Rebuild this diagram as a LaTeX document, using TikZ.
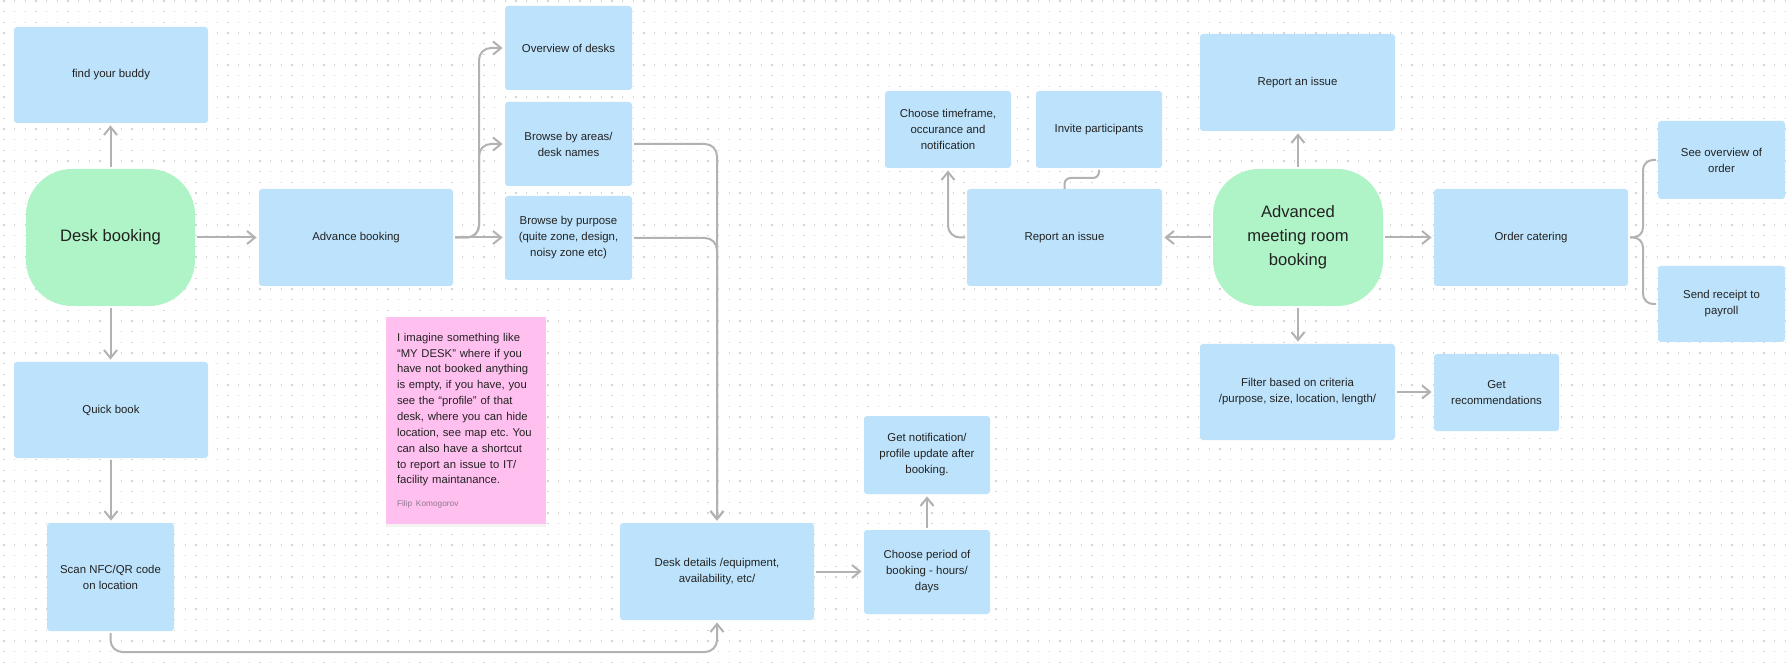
\documentclass[tikz,border=0pt]{standalone}
\usepackage{fontspec}
\setmainfont{Liberation Sans}
\usetikzlibrary{arrows.meta,shadows,calc}
\definecolor{boxblue}{HTML}{BDE3FC}
\definecolor{boxgreen}{HTML}{AFF4C6}
\definecolor{notepink}{HTML}{FFC0F0}
\definecolor{connc}{RGB}{178,178,178}
\definecolor{dotc}{RGB}{212,212,212}
\definecolor{txtc}{RGB}{34,34,34}
\definecolor{authc}{RGB}{140,120,140}
\frenchspacing
\tikzset{
  bluebox/.style={fill=boxblue, rounded corners=1.5pt, inner sep=0pt, outer sep=0pt, align=center, text=txtc, font=\fontsize{5.7}{8}\selectfont},
  greenbox/.style={fill=boxgreen, rounded corners=23pt, inner sep=0pt, outer sep=0pt, align=center, text=txtc, font=\fontsize{8.3}{12}\selectfont},
  conn/.style={draw=connc, line width=1pt, rounded corners=6pt, shorten <=1pt},
  arr/.style={conn, -{Straight Barb[length=4pt,width=6.5pt]}, shorten >=1.2pt},
  dotrow/.style={draw=dotc, line width=0.65pt, dash pattern=on 0.65pt off 4.6835pt}
}
\begin{document}
\begin{tikzpicture}[x=0.5pt,y=-0.5pt]
\fill[white] (0,0) rectangle (1789,663);
\useasboundingbox (0,0) rectangle (1789,663);
\foreach \r in {0,...,62}{
  \draw[dotrow] (3.35,{1+\r*10.667}) -- (1789,{1+\r*10.667});
}
% left part
\node[bluebox, minimum width=97pt, minimum height=48pt] (buddy) at (111,75) {find your buddy};
\node[greenbox, minimum width=84.5pt, minimum height=68.5pt] (desk) at (110.5,237.5) {Desk booking};
\node[bluebox, minimum width=97pt, minimum height=48pt] (quick) at (111,410) {Quick book};
\node[bluebox, minimum width=63.5pt, minimum height=54pt] (scan) at (110.5,577) {Scan NFC/QR code\\on location};
\node[bluebox, minimum width=97pt, minimum height=48.5pt] (advance) at (356,237.5) {Advance booking};
\node[bluebox, minimum width=63.5pt, minimum height=42pt] (overview) at (568.5,48) {Overview of desks};
\node[bluebox, minimum width=63.5pt, minimum height=42pt] (areas) at (568.5,144) {Browse by areas/\\desk names};
\node[bluebox, minimum width=63.5pt, minimum height=42pt] (purpose) at (568.5,238) {Browse by purpose\\(quite zone, design,\\noisy zone etc)};
\node[fill=notepink, minimum width=80pt, minimum height=103.5pt, inner sep=0pt, outer sep=0pt,
      drop shadow={shadow xshift=0pt, shadow yshift=-1.5pt, opacity=0.10},
      text width=69pt, align=left, text=txtc, font=\fontsize{5.65}{7.93}\selectfont] (note) at (466,420.5)
  {I imagine something like\\“MY DESK” where if you\\have not booked anything\\is empty, if you have, you\\see the “profile” of that\\desk, where you can hide\\location, see map etc. You\\can also have a shortcut\\to report an issue to IT/\\facility maintanance.\\[3.2pt]{\fontsize{4.15}{5}\selectfont\color{authc}Filip Komogorov}};
\node[bluebox, minimum width=97pt, minimum height=48.5pt] (details) at (717,571.5) {Desk details /equipment,\\availability, etc/};
\node[bluebox, minimum width=63pt, minimum height=42pt] (period) at (927,572) {Choose period of\\booking - hours/\\days};
\node[bluebox, minimum width=63pt, minimum height=39pt] (notif) at (927,455) {Get notification/\\profile update after\\booking.};
% right part
\node[bluebox, minimum width=63pt, minimum height=38.5pt] (timeframe) at (948,129.5) {Choose timeframe,\\occurance and\\notification};
\node[bluebox, minimum width=63pt, minimum height=38.5pt] (invite) at (1099,129.5) {Invite participants};
\node[bluebox, minimum width=97.5pt, minimum height=48.5pt] (report1) at (1064.5,237.5) {Report an issue};
\node[greenbox, minimum width=85pt, minimum height=68.5pt] (adv) at (1298,237.5) {Advanced\\meeting room\\booking};
\node[bluebox, minimum width=97.5pt, minimum height=48.5pt] (report2) at (1297.5,82.5) {Report an issue};
\node[bluebox, minimum width=97pt, minimum height=48.5pt] (catering) at (1531,237.5) {Order catering};
\node[bluebox, minimum width=63.5pt, minimum height=39pt] (seeov) at (1721.5,160) {See overview of\\order};
\node[bluebox, minimum width=63.5pt, minimum height=38pt] (receipt) at (1721.5,304) {Send receipt to\\payroll};
\node[bluebox, minimum width=97.5pt, minimum height=48pt] (filter) at (1297.5,392) {Filter based on criteria\\/purpose, size, location, length/};
\node[bluebox, minimum width=62.5pt, minimum height=38.5pt] (recommend) at (1496.5,392.5) {Get\\recommendations};
% connectors left
\draw[arr] (desk.north) -- (desk.north |- buddy.south);
\draw[arr] (desk.south) -- (desk.south |- quick.north);
\draw[arr] (quick.south) -- (quick.south |- scan.north);
\draw[arr] (desk.east) -- (advance.west);
\draw[arr] (advance.east) -- ++(26,0) |- (overview.west);
\draw[arr] (advance.east) -- ++(26,0) |- (areas.west);
\draw[arr] (advance.east) -- (advance.east -| purpose.west);
\draw[arr] (areas.east) -| (details.north);
\draw[arr] (purpose.east) -| (details.north);
\draw[arr] (scan.south) -- ++(0,21) -| (details.south);
\draw[arr] (details.east) -- (details.east -| period.west);
\draw[arr] (period.north) -- (notif.south);
% connectors right
\draw[arr] (report1.west) -| (timeframe.south);
\draw[conn, rounded corners=3pt] (invite.south) -- ++(0,10) -| (report1.north);
\draw[arr] (adv.west) -- (report1.east);
\draw[arr] (adv.north) -- (adv.north |- report2.south);
\draw[arr] (adv.south) -- (adv.south |- filter.north);
\draw[arr] (adv.east) -- (catering.west);
\draw[arr] (filter.east) -- (filter.east -| recommend.west);
\draw[conn, rounded corners=5pt, shorten >=1pt] (catering.east) -- ++(15,0) |- (seeov.west);
\draw[conn, rounded corners=5pt, shorten >=1pt] (catering.east) -- ++(15,0) |- (receipt.west);
\end{tikzpicture}
\end{document}
